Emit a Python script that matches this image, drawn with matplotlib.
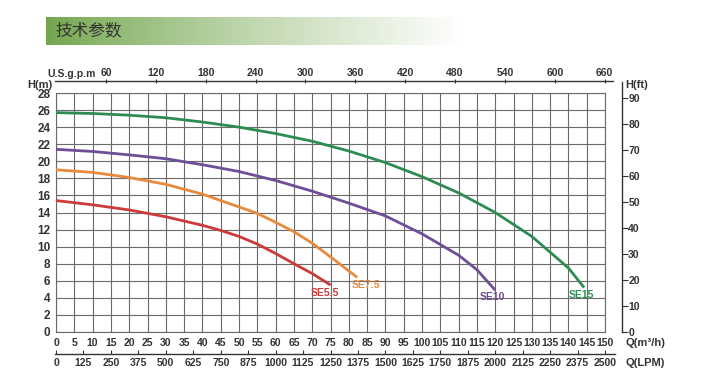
import numpy as np
import matplotlib
matplotlib.use("Agg")
import matplotlib.pyplot as plt

# pump curves, Q in m3/h, H in m
q_se55 = [0, 10, 20, 30, 40, 45, 50, 55, 60, 65, 70, 75]
h_se55 = [15.4, 14.9, 14.3, 13.5, 12.5, 11.9, 11.2, 10.3, 9.2, 8.0, 6.85, 5.5]

q_se75 = [0, 10, 20, 30, 40, 45, 50, 55, 60, 65, 70, 75, 82.3]
h_se75 = [19.0, 18.7, 18.1, 17.3, 16.15, 15.4, 14.65, 13.9, 12.85, 11.75, 10.4, 8.8, 6.4]

q_se10 = [0, 10, 20, 30, 40, 50, 60, 70, 80, 90, 100, 110, 115, 120]
h_se10 = [21.4, 21.15, 20.75, 20.3, 19.6, 18.8, 17.75, 16.5, 15.1, 13.6, 11.5, 9.0, 7.3, 4.9]

q_se15 = [0, 10, 20, 30, 40, 50, 60, 70, 80, 90, 100, 110, 120, 130, 140, 144.3]
h_se15 = [25.7, 25.6, 25.4, 25.1, 24.6, 24.0, 23.25, 22.35, 21.2, 19.85, 18.2, 16.3, 14.0, 11.2, 7.5, 5.2]

curve_names = ["SE5.5", "SE7.5", "SE10", "SE15"]
curve_colors = ["#cc3a3a", "#e88a3c", "#6e4e96", "#2e8c52"]
label_pos = [(73.5, 4.6), (84.8, 5.5), (119.1, 4.1), (143.6, 4.3)]

q_ticks = list(range(0, 151, 5))
h_ticks = list(range(0, 29, 2))
gpm_ticks = list(range(60, 661, 60))
lpm_ticks = list(range(0, 2501, 125))
ft_ticks = list(range(0, 91, 10))

W, H = 705, 386
plt.rcParams['font.family'] = ['Liberation Sans', 'Noto Sans CJK SC', 'DejaVu Sans']
plt.rcParams['font.weight'] = 'bold'
fig = plt.figure(figsize=(W / 100, H / 100), dpi=100)

def box(x0, y0, x1, y1):
    # pixel box (top-left origin) -> figure fraction
    return [x0 / W, 1 - y1 / H, (x1 - x0) / W, (y1 - y0) / H]

px0, px1 = 56, 605   # Q = 0 .. 150
py0, py1 = 332, 93   # H = 0 .. 28
ppq = (px1 - px0) / 150.0
pph = (py0 - py1) / 28.0
grid_col = "#6a6a6a"
txt_col = "#333333"
fs = 7.5

# title banner
ban = fig.add_axes(box(46, 17, 462, 45))
grad = np.linspace(0, 1, 400) ** 0.85
left = np.array([0.45, 0.65, 0.30])
cols = left[None, :] * (1 - grad[:, None]) + np.ones(3)[None, :] * grad[:, None]
ban.imshow(cols[None, :, :], aspect='auto', extent=[0, 1, 0, 1])
ban.set_axis_off()
fig.text(55 / W, 1 - 31 / H, "技术参数", fontsize=12, color="#333333", weight='normal',
         va='center', ha='left', family=['Noto Sans CJK SC', 'DejaVu Sans'])

# main chart
ax = fig.add_axes(box(px0, py1, px1, py0))
ax.set_xlim(0, 150)
ax.set_ylim(0, 28)
ax.set_xticks(q_ticks)
ax.set_yticks(h_ticks)
ax.set_xticklabels([str(v) for v in q_ticks])
ax.grid(True, color=grid_col, lw=0.8)
for s in ax.spines.values():
    s.set_color(grid_col)
    s.set_linewidth(0.8)
ax.tick_params(length=0, labelsize=fs, colors=txt_col)
ax.tick_params(axis='x', pad=4)
ax.tick_params(axis='y', pad=4, labelsize=8.5)

series = [(q_se55, h_se55), (q_se75, h_se75), (q_se10, h_se10), (q_se15, h_se15)]
for (q, h), name, c, (lx, ly) in zip(series, curve_names, curve_colors, label_pos):
    ax.plot(q, h, color=c, lw=2.0, solid_capstyle='butt', solid_joinstyle='round', zorder=3)
    ax.text(lx, ly, name, color=c, fontsize=fs, ha='center', va='center', zorder=4)

fig.text(27 / W, 1 - 85 / H, "H(m)", fontsize=8, color=txt_col, va='center')

# top axis, US gpm
ga, gb = 55, 613
gpm_f = 4.403
axg = fig.add_axes(box(ga, 81, gb, 82))
axg.set_xlim((ga - px0) / ppq * gpm_f, (gb - px0) / ppq * gpm_f)
axg.set_ylim(0, 1)
for k in ['left', 'right', 'bottom']:
    axg.spines[k].set_visible(False)
axg.spines['top'].set_color(txt_col)
axg.spines['top'].set_linewidth(1.0)
axg.xaxis.tick_top()
axg.set_xticks(gpm_ticks)
axg.set_yticks([])
axg.tick_params(axis='x', direction='inout', length=3, width=0.8, pad=1,
                labelsize=fs, colors=txt_col)
axg.patch.set_visible(False)
fig.text(47 / W, 1 - 74 / H, "U.S.g.p.m", fontsize=fs, color=txt_col, va='center')

# bottom axis, LPM
la, lb = 55, 615
lpm_f = 1000 / 60.0
axl = fig.add_axes(box(la, 353, lb, 354))
axl.set_xlim((la - px0) / ppq * lpm_f, (lb - px0) / ppq * lpm_f)
axl.set_ylim(0, 1)
for k in ['left', 'right', 'top']:
    axl.spines[k].set_visible(False)
axl.spines['bottom'].set_color(txt_col)
axl.spines['bottom'].set_linewidth(1.0)
axl.set_xticks(lpm_ticks)
axl.set_yticks([])
axl.tick_params(axis='x', direction='in', length=3, width=0.8, pad=3,
                labelsize=fs, colors=txt_col)
axl.patch.set_visible(False)

fig.text(625 / W, 1 - 343 / H, "Q(m³/h)", fontsize=8, color=txt_col, va='center')
fig.text(625 / W, 1 - 363 / H, "Q(LPM)", fontsize=8, color=txt_col, va='center')

# right axis, H ft
ra_top, ra_bot = 82, py0
ft_f = 3.2808
axr = fig.add_axes(box(621, ra_top, 622, ra_bot))
axr.set_ylim(0, (ra_bot - ra_top) / pph * ft_f)
axr.set_xlim(0, 1)
for k in ['left', 'top', 'bottom']:
    axr.spines[k].set_visible(False)
axr.spines['right'].set_color(txt_col)
axr.spines['right'].set_linewidth(1.0)
axr.yaxis.tick_right()
axr.set_yticks(ft_ticks)
axr.set_xticks([])
axr.tick_params(axis='y', direction='out', length=4, width=0.8, pad=0.5,
                labelsize=fs, colors=txt_col)
axr.patch.set_visible(False)
fig.text(625 / W, 1 - 85 / H, "H(ft)", fontsize=8, color=txt_col, va='center')

fig.savefig("out.png", dpi=100)
